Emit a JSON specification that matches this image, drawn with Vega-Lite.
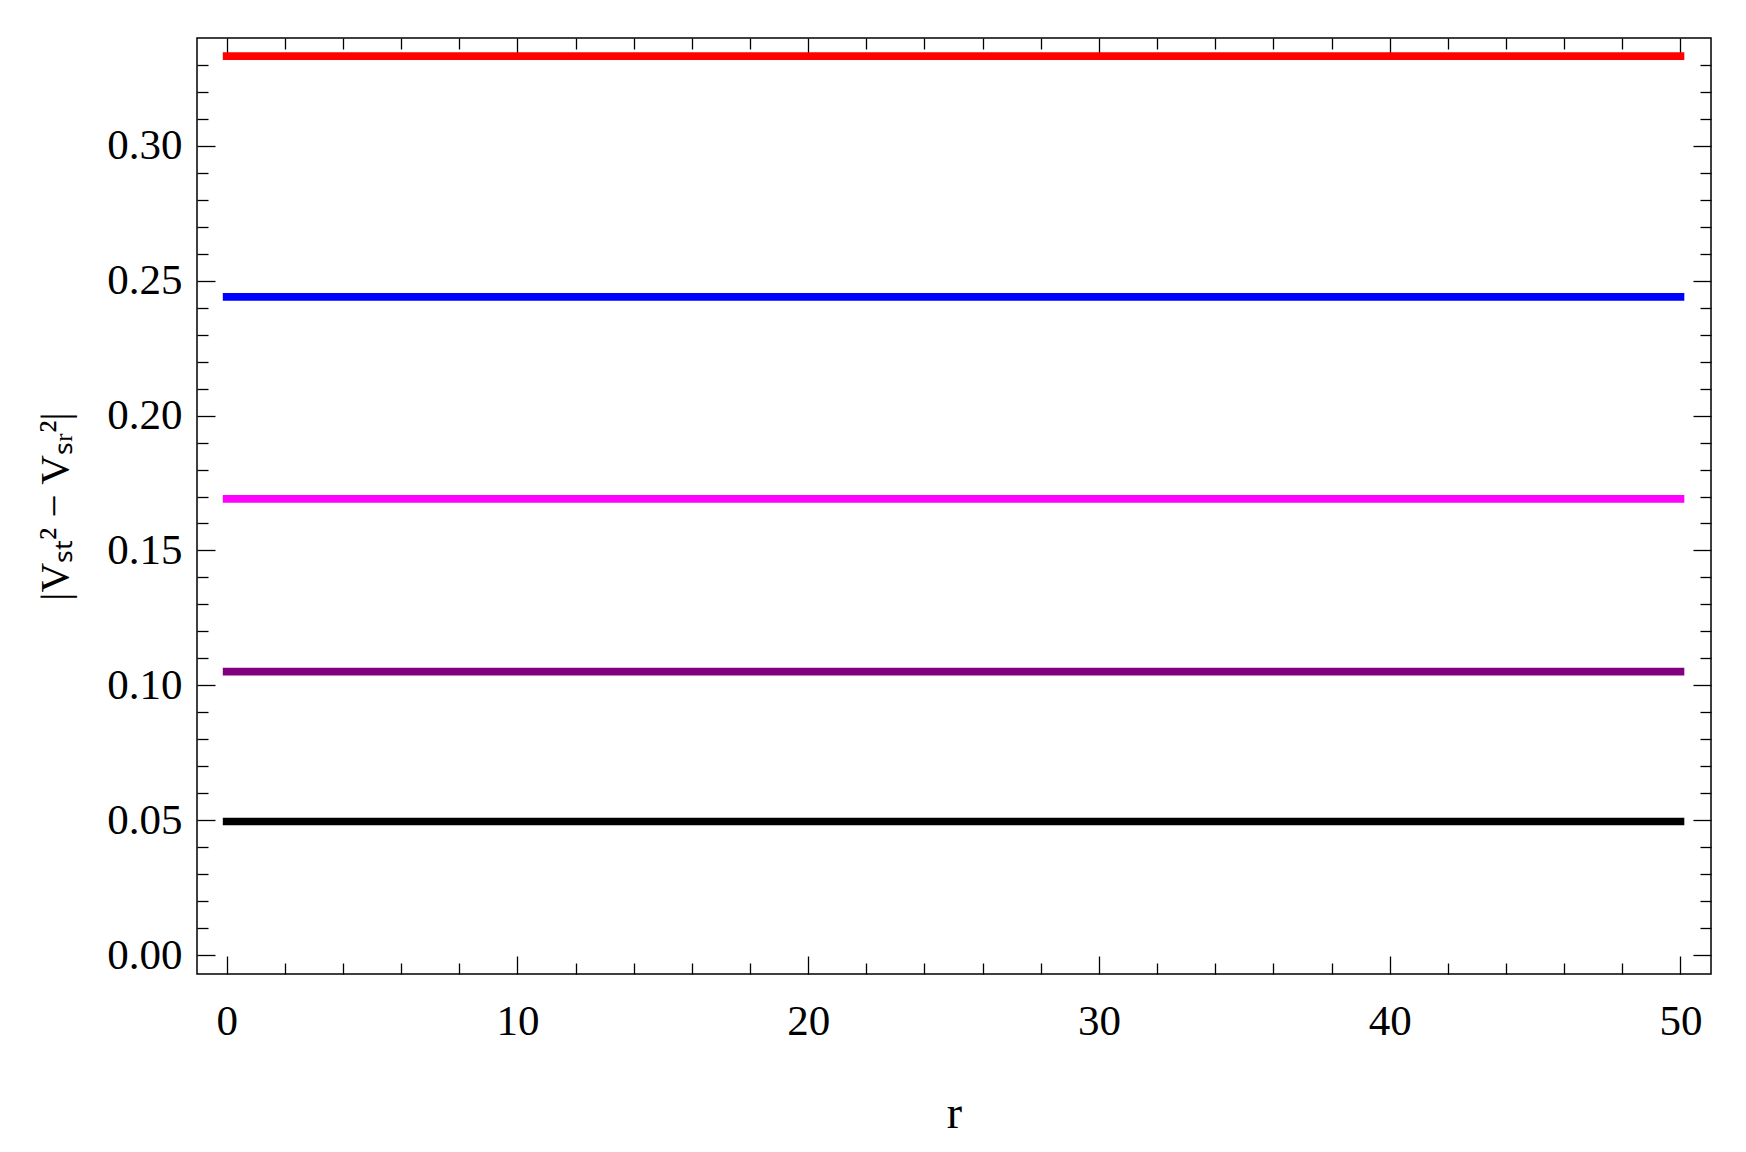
{
  "$schema": "https://vega.github.io/schema/vega-lite/v6.json",
  "width": 1514,
  "height": 936,
  "autosize": {"type": "none"},
  "padding": {"left": 197, "top": 38, "right": 35, "bottom": 178},
  "background": "white",
  "config": {
    "view": {"stroke": "black", "strokeWidth": 1.5},
    "axis": {"grid": false, "domain": false, "tickColor": "black", "tickWidth": 1.3, "labelFont": "Liberation Serif", "labelFontSize": 43, "labelColor": "black", "titleFont": "Liberation Serif", "titleColor": "black", "titleFontWeight": "normal"}
  },
  "data": {"values": [
    {"r": 0, "v": 0.3333, "s": "a"}, {"r": 10, "v": 0.3333, "s": "a"}, {"r": 20, "v": 0.3333, "s": "a"}, {"r": 30, "v": 0.3333, "s": "a"}, {"r": 40, "v": 0.3333, "s": "a"}, {"r": 50, "v": 0.3333, "s": "a"},
    {"r": 0, "v": 0.2440, "s": "b"}, {"r": 10, "v": 0.2440, "s": "b"}, {"r": 20, "v": 0.2440, "s": "b"}, {"r": 30, "v": 0.2440, "s": "b"}, {"r": 40, "v": 0.2440, "s": "b"}, {"r": 50, "v": 0.2440, "s": "b"},
    {"r": 0, "v": 0.1691, "s": "c"}, {"r": 10, "v": 0.1691, "s": "c"}, {"r": 20, "v": 0.1691, "s": "c"}, {"r": 30, "v": 0.1691, "s": "c"}, {"r": 40, "v": 0.1691, "s": "c"}, {"r": 50, "v": 0.1691, "s": "c"},
    {"r": 0, "v": 0.1051, "s": "d"}, {"r": 10, "v": 0.1051, "s": "d"}, {"r": 20, "v": 0.1051, "s": "d"}, {"r": 30, "v": 0.1051, "s": "d"}, {"r": 40, "v": 0.1051, "s": "d"}, {"r": 50, "v": 0.1051, "s": "d"},
    {"r": 0, "v": 0.0495, "s": "e"}, {"r": 10, "v": 0.0495, "s": "e"}, {"r": 20, "v": 0.0495, "s": "e"}, {"r": 30, "v": 0.0495, "s": "e"}, {"r": 40, "v": 0.0495, "s": "e"}, {"r": 50, "v": 0.0495, "s": "e"}
  ]},
  "resolve": {"axis": {"x": "independent", "y": "independent"}},
  "layer": [
    {
      "mark": {"type": "line", "strokeWidth": 7.7, "strokeCap": "square", "clip": true},
      "encoding": {
        "x": {"field": "r", "type": "quantitative", "scale": {"domain": [-1.02, 51.05], "nice": false, "zero": false},
          "axis": {"orient": "bottom", "values": [0, 10, 20, 30, 40, 50], "format": "d", "tickSize": -18, "labelPadding": 44, "title": "r", "titleFontSize": 46, "titlePadding": 48}},
        "y": {"field": "v", "type": "quantitative", "scale": {"domain": [-0.00704, 0.34], "nice": false, "zero": false},
          "axis": {"orient": "left", "values": [0, 0.05, 0.1, 0.15, 0.2, 0.25, 0.3], "format": ".2f", "tickSize": -18, "labelPadding": 33, "title": "|Vₛₜ² − Vₛᵣ²|", "titleFontSize": 41, "titlePadding": 30}},
        "color": {"field": "s", "type": "nominal", "legend": null,
          "scale": {"domain": ["a", "b", "c", "d", "e"], "range": ["#ff0000", "#0000ff", "#ff00ff", "#800080", "#000000"]}}
      }
    },
    {
      "mark": {"type": "point", "opacity": 0},
      "encoding": {
        "x": {"field": "r", "type": "quantitative", "axis": {"orient": "bottom", "values": [2,4,6,8,12,14,16,18,22,24,26,28,32,34,36,38,42,44,46,48], "tickSize": -11, "labels": false, "title": null}},
        "y": {"field": "v", "type": "quantitative", "axis": {"orient": "left", "values": [0.01,0.02,0.03,0.04,0.06,0.07,0.08,0.09,0.11,0.12,0.13,0.14,0.16,0.17,0.18,0.19,0.21,0.22,0.23,0.24,0.26,0.27,0.28,0.29,0.31,0.32,0.33], "tickSize": -11, "labels": false, "title": null}}
      }
    },
    {
      "mark": {"type": "point", "opacity": 0},
      "encoding": {
        "x": {"field": "r", "type": "quantitative", "axis": {"orient": "top", "values": [0, 10, 20, 30, 40, 50], "tickSize": -18, "labels": false, "title": null}},
        "y": {"field": "v", "type": "quantitative", "axis": {"orient": "right", "values": [0, 0.05, 0.1, 0.15, 0.2, 0.25, 0.3], "tickSize": -18, "labels": false, "title": null}}
      }
    },
    {
      "mark": {"type": "point", "opacity": 0},
      "encoding": {
        "x": {"field": "r", "type": "quantitative", "axis": {"orient": "top", "values": [2,4,6,8,12,14,16,18,22,24,26,28,32,34,36,38,42,44,46,48], "tickSize": -11, "labels": false, "title": null}},
        "y": {"field": "v", "type": "quantitative", "axis": {"orient": "right", "values": [0.01,0.02,0.03,0.04,0.06,0.07,0.08,0.09,0.11,0.12,0.13,0.14,0.16,0.17,0.18,0.19,0.21,0.22,0.23,0.24,0.26,0.27,0.28,0.29,0.31,0.32,0.33], "tickSize": -11, "labels": false, "title": null}}
      }
    }
  ]
}
